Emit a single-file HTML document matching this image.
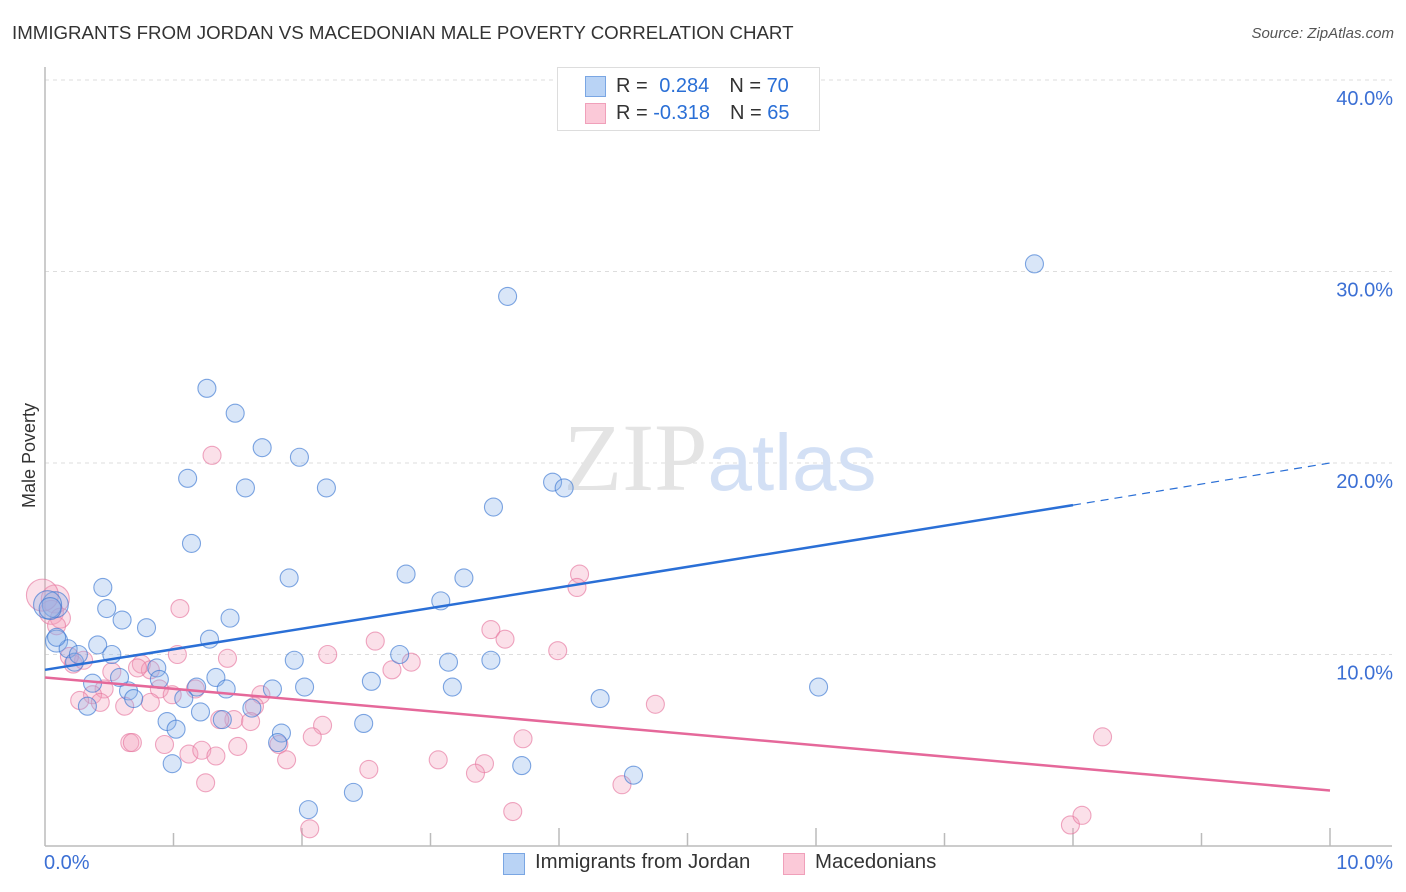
<!DOCTYPE html>
<html><head><meta charset="utf-8">
<style>
html,body{margin:0;padding:0;background:#fff;}
body{width:1406px;height:892px;overflow:hidden;font-family:"Liberation Sans",sans-serif;position:relative;}
.t{position:absolute;white-space:nowrap;}
</style></head><body>
<div class="t" style="left:12px;top:22px;font-size:18.7px;color:#333;">IMMIGRANTS FROM JORDAN VS MACEDONIAN MALE POVERTY CORRELATION CHART</div>
<div class="t" style="right:12px;top:25px;font-size:15px;color:#555;font-style:italic;">Source: ZipAtlas.com</div>
<svg id="chart" width="1406" height="892" style="position:absolute;left:0;top:0;"></svg>
<script>
const xTicks=[0,1,2,3,4,5,6,7,8,9,10];
const yTicks=[10,20,30,40];
const yTickLabels=["10.0%","20.0%","30.0%","40.0%"];
const blueX=[7.70,3.60,1.26,1.48,1.69,1.98,1.11,1.56,2.19,3.95,4.04,3.49,1.14,1.90,2.81,3.26,0.45,0.48,0.60,0.79,1.44,3.08,0.09,0.41,0.18,0.52,1.28,1.94,2.76,3.14,3.47,0.87,0.23,0.26,0.37,0.65,0.58,0.33,0.69,0.89,1.33,1.18,1.41,1.77,2.02,2.54,3.17,4.32,6.02,1.08,0.95,1.02,1.38,1.21,1.61,1.84,1.81,2.48,0.99,3.71,4.58,2.05,2.40,0.08,0.02,0.04,0.09];
const blueY=[30.4,28.7,23.9,22.6,20.8,20.3,19.2,18.7,18.7,19.0,18.7,17.7,15.8,14.0,14.2,14.0,13.5,12.4,11.8,11.4,11.9,12.8,10.7,10.5,10.3,10.0,10.8,9.7,10.0,9.6,9.7,9.3,9.6,10.0,8.5,8.1,8.8,7.3,7.7,8.7,8.8,8.3,8.2,8.2,8.3,8.6,8.3,7.7,8.3,7.7,6.5,6.1,6.6,7.0,7.2,5.9,5.4,6.4,4.3,4.2,3.7,1.9,2.8,12.6,12.6,12.4,10.9];
const blueR=[9,9,9,9,9,9,9,9,9,9,9,9,9,9,9,9,9,9,9,9,9,9,11,9,9,9,9,9,9,9,9,9,9,9,9,9,9,9,9,9,9,9,9,9,9,9,9,9,9,9,9,9,9,9,9,9,9,9,9,9,9,9,9,13,14,11,9];
const pinkX=[1.30,4.16,4.14,1.05,0.08,0.05,0.12,2.57,3.47,3.58,3.99,1.03,2.20,1.42,2.85,2.70,0.22,0.30,0.75,0.19,0.52,0.82,0.89,1.17,0.99,0.46,0.37,0.27,0.43,0.62,0.82,1.68,1.63,4.75,1.47,1.36,1.60,2.16,2.08,3.72,0.66,0.68,0.93,1.12,1.22,1.33,1.50,1.82,1.88,2.52,3.06,3.42,3.35,1.25,4.49,8.23,3.64,2.06,7.98,8.07,-0.02,0.09,0.72];
const pinkY=[20.4,14.2,13.5,12.4,12.9,12.2,11.9,10.7,11.3,10.8,10.2,10.0,10.0,9.8,9.6,9.2,9.5,9.7,9.5,9.9,9.1,9.2,8.2,8.2,7.9,8.2,7.9,7.6,7.5,7.3,7.5,7.9,7.3,7.4,6.6,6.6,6.5,6.3,5.7,5.6,5.4,5.4,5.3,4.8,5.0,4.7,5.2,5.3,4.5,4.0,4.5,4.3,3.8,3.3,3.2,5.7,1.8,0.9,1.1,1.6,13.1,11.5,9.3];
const pinkR=[9,9,9,9,14,12,10,9,9,9,9,9,9,9,9,9,9,9,9,9,9,9,9,9,9,9,9,9,9,9,9,9,9,9,9,9,9,9,9,9,9,9,9,9,9,9,9,9,9,9,9,9,9,9,9,9,9,9,9,9,16,9,9];
const blueTrend=[[0,9.2],[8,17.8],[10,20.0]];
const pinkTrend=[[0,8.8],[10,2.9]];

const NS="http://www.w3.org/2000/svg";
const svg=document.getElementById('chart');
const X0=45,X1=1330,Y0=846,PX=19.15;
function xs(v){return X0+(X1-X0)*v/10;}
function ys(v){return Y0-v*PX;}
function mk(tag,attrs,parent){const e=document.createElementNS(NS,tag);for(const k in attrs)e.setAttribute(k,attrs[k]);(parent||svg).appendChild(e);return e;}

yTicks.forEach((t,i)=>{
  const g=mk('line',{x1:X0,x2:1392,y1:ys(t),y2:ys(t),stroke:'#ddd','stroke-dasharray':'4,4'});
  
  
  const tx=mk('text',{x:1393,y:ys(t)+25,'text-anchor':'end','font-size':'20',fill:'#3b6fd4','font-family':'Liberation Sans, sans-serif'});
  tx.textContent=yTickLabels[i];
  
  
});
const ya=mk('line',{x1:X0,x2:X0,y1:67,y2:846,stroke:'#bbb','stroke-width':1.5});


const xa=mk('line',{x1:X0,x2:1392,y1:846,y2:846,stroke:'#bbb','stroke-width':1.5});


xTicks.forEach(t=>{
  if(t===0)return;
  const tk=mk('line',{x1:xs(t),x2:xs(t),y1:(t%2===0?828:833),y2:846,stroke:'#bbb','stroke-width':1.5});
  
  
});
const wm=mk('text',{x:720,y:490,'text-anchor':'middle','font-size':'96',fill:'#e4e4e4','font-family':'Liberation Serif, serif'});
wm.innerHTML='ZIP<tspan font-family="Liberation Sans, sans-serif" fill="#d3e0f5" font-size="80">atlas</tspan>';



function pts(X,Y,R,fill,stroke,name){
  X.forEach((v,i)=>{
    const c=mk('circle',{cx:xs(v),cy:ys(Y[i]),r:R[i],fill:fill,stroke:stroke,'stroke-width':1.1});
    
    
  });
}
pts(pinkX,pinkY,pinkR,'rgba(244,160,188,0.33)','rgba(230,120,160,0.65)','macedonians-point');
pts(blueX,blueY,blueR,'rgba(140,180,235,0.33)','rgba(60,120,210,0.65)','jordan-point');

const b1=mk('line',{x1:xs(blueTrend[0][0]),y1:ys(blueTrend[0][1]),x2:xs(blueTrend[1][0]),y2:ys(blueTrend[1][1]),stroke:'#2a6fd6','stroke-width':2.5});


const b2=mk('line',{x1:xs(blueTrend[1][0]),y1:ys(blueTrend[1][1]),x2:xs(blueTrend[2][0]),y2:ys(blueTrend[2][1]),stroke:'#2a6fd6','stroke-width':1.2,'stroke-dasharray':'8,6'});


const p1=mk('line',{x1:xs(pinkTrend[0][0]),y1:ys(pinkTrend[0][1]),x2:xs(pinkTrend[1][0]),y2:ys(pinkTrend[1][1]),stroke:'#e5689a','stroke-width':2.5});


</script>
<div class="t" style="left:-23px;top:445px;font-size:18px;color:#333;transform:rotate(-90deg);">Male Poverty</div>
<div class="t" style="left:44px;top:852px;font-size:20px;color:#3b6fd4;">0.0%</div>
<div class="t" style="right:13px;top:852px;font-size:20px;color:#3b6fd4;">10.0%</div>
<div style="position:absolute;left:557px;top:67px;width:261px;height:62px;border:1px solid #ddd;background:#fff;font-size:20px;color:#333;">
  <div style="position:absolute;left:27px;top:8px;width:19px;height:19px;background:#b9d3f5;border:1.5px solid #7aa6e3;"></div>
  <div class="t" style="left:58px;top:7px;">R = <span style="color:#2a6fd6;margin-left:6px;">0.284</span><span style="margin-left:20px;">N = </span><span style="color:#2a6fd6;">70</span></div>
  <div style="position:absolute;left:27px;top:35px;width:19px;height:19px;background:#fbc9d8;border:1.5px solid #f0a0ba;"></div>
  <div class="t" style="left:58px;top:34px;">R = <span style="color:#2a6fd6;">-0.318</span><span style="margin-left:20px;">N = </span><span style="color:#2a6fd6;">65</span></div>
</div>
<div style="position:absolute;left:503px;top:853px;">
  <div style="position:absolute;left:0;top:0;width:20px;height:20px;background:#b9d3f5;border:1.5px solid #7aa6e3;"></div>
  <div class="t" style="left:32px;top:-2px;font-size:20.4px;color:#333;">Immigrants from Jordan</div>
</div>
<div style="position:absolute;left:783px;top:853px;">
  <div style="position:absolute;left:0;top:0;width:20px;height:20px;background:#fbc9d8;border:1.5px solid #f0a0ba;"></div>
  <div class="t" style="left:32px;top:-2px;font-size:20.4px;color:#333;">Macedonians</div>
</div>
</body></html>
